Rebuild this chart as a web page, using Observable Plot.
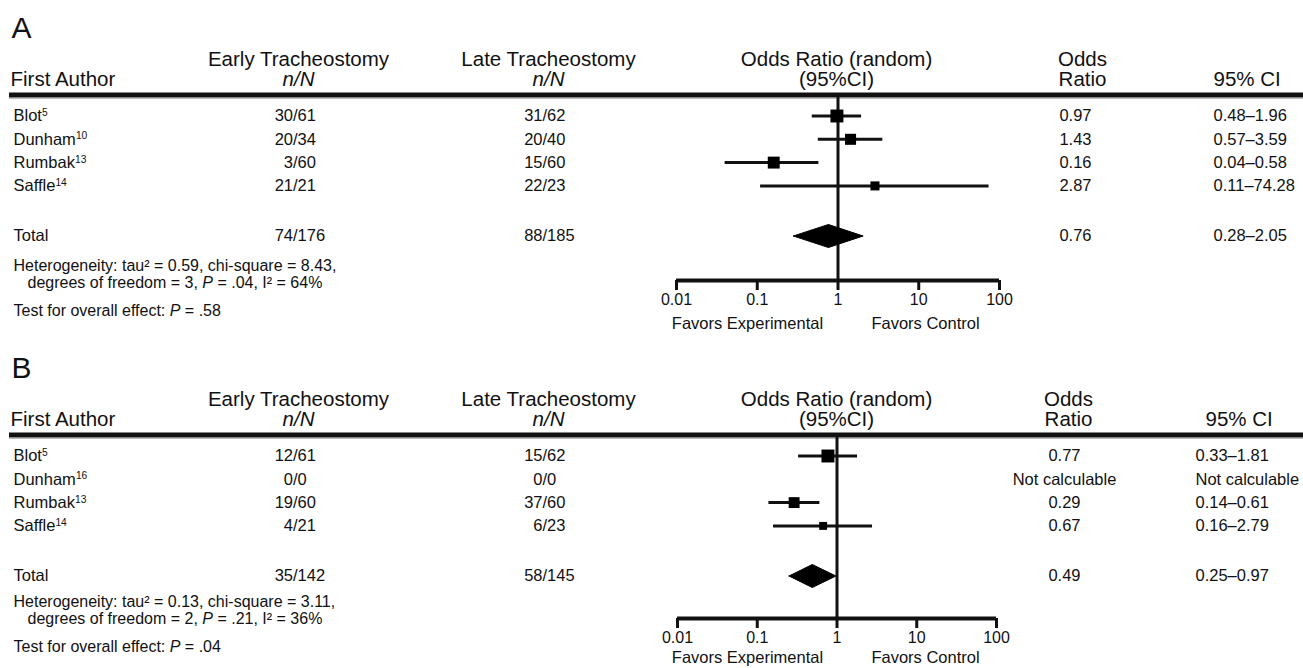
<!DOCTYPE html>
<html><head><meta charset="utf-8">
<script src="https://cdn.jsdelivr.net/npm/d3@7"></script>
<script src="https://cdn.jsdelivr.net/npm/@observablehq/plot@0.6"></script>
<style>
body{margin:0;background:#fff;}
#chart svg{display:block;}
</style></head><body><div id="chart"></div>
<script>
// ---------- data ----------
const headTop = ["Early Tracheostomy", "Late Tracheostomy", "Odds Ratio (random)", "Odds"];
const headBottom = ["First Author", "n/N", "n/N", "(95%CI)", "Ratio", "95% CI"];
const tickValues = [0.01, 0.1, 1, 10, 100];
const tickLabels = ["0.01", "0.1", "1", "10", "100"];
const favors = ["Favors Experimental", "Favors Control"];

// Panel A
const authorsA = ["Blot^5", "Dunham^10", "Rumbak^13", "Saffle^14"];
const earlyA = ["30/61", "20/34", "3/60", "21/21"];
const lateA = ["31/62", "20/40", "15/60", "22/23"];
const orA = [0.97, 1.43, 0.16, 2.87];
const loA = [0.48, 0.57, 0.04, 0.11];
const hiA = [1.96, 3.59, 0.58, 74.28];
const weightA = [33, 24, 28, 16];
const orTextA = ["0.97", "1.43", "0.16", "2.87"];
const ciTextA = ["0.48–1.96", "0.57–3.59", "0.04–0.58", "0.11–74.28"];
const totalCountsA = ["74/176", "88/185"];
const totalEffectA = [0.76, 0.28, 2.05];
const totalTextA = ["0.76", "0.28–2.05"];
const hetA = ["Heterogeneity: tau² = 0.59, chi-square = 8.43,", "degrees of freedom = 3, *P* = .04, I² = 64%", "Test for overall effect: *P* = .58"];

// Panel B
const authorsB = ["Blot^5", "Dunham^16", "Rumbak^13", "Saffle^14"];
const earlyB = ["12/61", "0/0", "19/60", "4/21"];
const lateB = ["15/62", "0/0", "37/60", "6/23"];
const orB = [0.77, null, 0.29, 0.67];
const loB = [0.33, null, 0.14, 0.16];
const hiB = [1.81, null, 0.61, 2.79];
const weightB = [48, 0, 34, 18];
const orTextB = ["0.77", "Not calculable", "0.29", "0.67"];
const ciTextB = ["0.33–1.81", "Not calculable", "0.14–0.61", "0.16–2.79"];
const totalCountsB = ["35/142", "58/145"];
const totalEffectB = [0.49, 0.25, 0.97];
const totalTextB = ["0.49", "0.25–0.97"];
const hetB = ["Heterogeneity: tau² = 0.13, chi-square = 3.11,", "degrees of freedom = 2, *P* = .21, I² = 36%", "Test for overall effect: *P* = .04"];

// ---------- layout (row units) ----------
const ORIGIN = 115.5, UNIT = 23.3, H = 340;
const u = p => (p - ORIGIN) / UNIT;
const FONT = "'Liberation Sans', Arial, Helvetica, sans-serif";

function panel(p) {
  const rows = p.authors.map((a, i) => ({author: a, early: p.early[i], late: p.late[i], or: p.or[i], lo: p.lo[i], hi: p.hi[i], w: p.weight[i], orText: p.orText[i], ciText: p.ciText[i], row: i}));
  const est = rows.filter(d => d.or != null);
  const TOT = u(235.5);
  const total = [{author: "Total", early: p.totalCounts[0], late: p.totalCounts[1], orText: p.totalText[0], ciText: p.totalText[1], row: TOT}];
  const all = rows.concat(total);
  const [tor, tlo, thi] = p.totalEffect;
  const dh = 11.5 / UNIT;
  const diamond = [{x: tlo, y: TOT}, {x: tor, y: TOT - dh}, {x: thi, y: TOT}, {x: tor, y: TOT + dh}, {x: tlo, y: TOT}];
  const axPx = 280 + p.axShift;
  const AX = u(axPx), LINE = u(94.5), L1 = u(58.5), L2 = u(79);
  const fs = 16.5, hfs = 20.5, hetfs = 16;
  const T = (data, o) => Plot.text(data, {frameAnchor: "left", fill: "#111", fontSize: fs, ...o});
  const num = s => s.split("/")[0];
  const den = s => "/" + s.split("/")[1];
  const c = p.cols;
  const svg = Plot.plot({
    width: 1303, height: p.height,
    marginLeft: 0, marginRight: 0, marginTop: 0, marginBottom: p.height - axPx,
    style: {fontFamily: FONT, background: "#fff", overflow: "hidden"},
    x: {type: "log", domain: [0.01, 100], range: p.xRange, label: null},
    y: {domain: [u(0), u(H)], range: [0, H], axis: null},
    r: {type: "sqrt", domain: [0, d3.max(p.weight)], range: [0, 7.3]},
    marks: [
      // panel letter
      T([p.letter], {text: d => d, y: u(27.5), dx: 11, fontSize: 30}),
      // headers
      T([headBottom[0]], {text: d => d, y: L2, dx: 10, fontSize: hfs}),
      T([headTop[0]], {text: d => d, y: L1, dx: c.early, textAnchor: "middle", fontSize: hfs}),
      T([headBottom[1]], {text: d => d, y: L2, dx: c.early, textAnchor: "middle", fontSize: hfs, fontStyle: "italic"}),
      T([headTop[1]], {text: d => d, y: L1, dx: c.late, textAnchor: "middle", fontSize: hfs}),
      T([headBottom[2]], {text: d => d, y: L2, dx: c.late, textAnchor: "middle", fontSize: hfs, fontStyle: "italic"}),
      T([headTop[2]], {text: d => d, y: L1, dx: c.forest, textAnchor: "middle", fontSize: hfs}),
      T([headBottom[3]], {text: d => d, y: L2, dx: c.forest, textAnchor: "middle", fontSize: hfs}),
      T([headTop[3]], {text: d => d, y: L1, dx: c.orHead, textAnchor: "middle", fontSize: hfs}),
      T([headBottom[4]], {text: d => d, y: L2, dx: c.orHead, textAnchor: "middle", fontSize: hfs}),
      T([headBottom[5]], {text: d => d, y: L2, dx: c.ciHead, textAnchor: "start", fontSize: hfs}),
      // header rule
      Plot.ruleY([LINE], {stroke: "#111", strokeWidth: 5, insetLeft: 9}),
      Plot.ruleY([LINE + 3.5 / UNIT], {stroke: "#bbb", strokeWidth: 1.2, insetLeft: 9}),
      // table rows
      T(all, {y: "row", text: "author", dx: 13}),
      T(all, {y: "row", text: d => num(d.early), dx: c.earlySlash, textAnchor: "end"}),
      T(all, {y: "row", text: d => den(d.early), dx: c.earlySlash, textAnchor: "start"}),
      T(all, {y: "row", text: d => num(d.late), dx: c.lateSlash, textAnchor: "end"}),
      T(all, {y: "row", text: d => den(d.late), dx: c.lateSlash, textAnchor: "start"}),
      T(all, {y: "row", text: "orText", dx: c.or, textAnchor: "middle"}),
      T(all, {y: "row", text: "ciText", dx: c.ci, textAnchor: "start"}),
      // heterogeneity
      T([p.het[0]], {text: d => d, y: u(265.8 + p.hetShift), dx: 13, fontSize: hetfs}),
      T([p.het[1]], {text: d => d, y: u(282.2 + p.hetShift), dx: 27, fontSize: hetfs}),
      T([p.het[2]], {text: d => d, y: u(310 + p.hetShift), dx: 13, fontSize: hetfs}),
      // forest
      Plot.ruleX([1], {y1: LINE, y2: AX, stroke: "#111", strokeWidth: 3}),
      Plot.ruleY(est, {x1: "lo", x2: "hi", y: "row", stroke: "#111", strokeWidth: 3}),
      Plot.dot(est, {x: "or", y: "row", r: "w", symbol: "square", fill: "#000", stroke: null}),
      Plot.line(diamond, {x: "x", y: "y", fill: "#000", stroke: "#000", strokeWidth: 1}),
      // axis
      Plot.ruleY([AX], {x1: 0.01, x2: 100, stroke: "#111", strokeWidth: 4}),
      Plot.axisX(tickValues, {anchor: "bottom", tickSize: 10, tickPadding: 3, strokeWidth: 3, stroke: "#111",
        tickFormat: d => tickLabels[tickValues.indexOf(d)], fontSize: 16, fill: "#111", label: null}),
      T([favors[0]], {text: d => d, y: u(axPx + p.favGap), dx: 747, textAnchor: "middle"}),
      T([favors[1]], {text: d => d, y: u(axPx + p.favGap), dx: 925, textAnchor: "middle"})
    ]
  });
  markup(svg);
  return svg;
}

function markup(svg) {
  const NS = "http://www.w3.org/2000/svg";
  svg.querySelectorAll("text").forEach(t => {
    const s = t.textContent;
    if (!/[\^*]/.test(s) || t.children.length) return;
    t.textContent = "";
    s.split(/(\*[^*]+\*|\^\d+)/).filter(Boolean).forEach(part => {
      const ts = document.createElementNS(NS, "tspan");
      if (part[0] === "^") {
        ts.textContent = part.slice(1);
        ts.setAttribute("font-size", "0.62em");
        ts.setAttribute("dy", "-0.52em");
      } else if (part[0] === "*") {
        ts.textContent = part.slice(1, -1);
        ts.setAttribute("font-style", "italic");
      } else ts.textContent = part;
      t.appendChild(ts);
    });
  });
}

const chart = document.getElementById("chart");
chart.appendChild(panel({
  letter: "A", height: 340, xRange: [676, 999], axShift: 0, hetShift: 0, favGap: 43,
  authors: authorsA, early: earlyA, late: lateA, or: orA, lo: loA, hi: hiA, weight: weightA,
  orText: orTextA, ciText: ciTextA, totalCounts: totalCountsA, totalEffect: totalEffectA, totalText: totalTextA, het: hetA,
  cols: {early: 298, late: 548, forest: 836, orHead: 1082, ciHead: 1213, earlySlash: 292.5, lateSlash: 542, or: 1075, ci: 1213}
}));
chart.appendChild(panel({
  letter: "B", height: 328, xRange: [677, 996], axShift: -2, hetShift: -4, favGap: 39,
  authors: authorsB, early: earlyB, late: lateB, or: orB, lo: loB, hi: hiB, weight: weightB,
  orText: orTextB, ciText: ciTextB, totalCounts: totalCountsB, totalEffect: totalEffectB, totalText: totalTextB, het: hetB,
  cols: {early: 298, late: 548, forest: 836, orHead: 1068, ciHead: 1205, earlySlash: 292.5, lateSlash: 542, or: 1064, ci: 1195}
}));
</script></body></html>
